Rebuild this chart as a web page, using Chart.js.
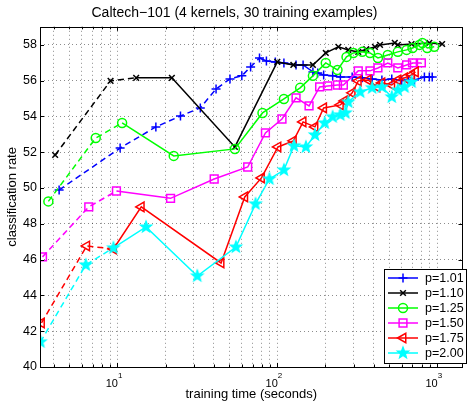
<!DOCTYPE html>
<html>
<head>
<meta charset="utf-8">
<script src="https://cdn.jsdelivr.net/npm/chart.js@4.4.0/dist/chart.umd.min.js"></script>
<style>
  html, body { margin: 0; padding: 0; background: #fff; }
  #wrap { width: 470px; height: 401px; }
</style>
</head>
<body>
<div id="wrap"><canvas id="chart" width="470" height="401"></canvas></div>
<script>
  // Valores (tiempo de entrenamiento en segundos, tasa de clasificacion %)
  const labels = ['p=1.01', 'p=1.10', 'p=1.25', 'p=1.50', 'p=1.75', 'p=2.00'];

  const p101x = [4.32, 10.4, 17.4, 24.8, 33.0, 41.4, 50.6, 60.0, 68.1, 77.4, 85.5, 97.2, 110, 131, 145, 167, 179, 195, 222, 248, 294, 340, 392, 451, 520, 600, 660, 721, 832, 893, 931];
  const p101y = [49.89, 52.23, 53.41, 54.02, 54.47, 55.53, 56.09, 56.26, 56.76, 57.26, 57.09, 57.04, 56.98, 56.87, 56.87, 56.48, 56.42, 56.31, 56.26, 56.2, 56.2, 56.15, 56.09, 56.03, 56.09, 56.0, 56.05, 56.03, 56.2, 56.2, 56.2];

  const p110x = [4.08, 9.06, 13.1, 21.9, 54.3, 100, 126, 167, 201, 241, 278, 321, 360, 408, 439, 543, 567, 691, 893, 1074];
  const p110y = [51.84, 55.98, 56.15, 56.15, 52.29, 57.04, 56.87, 56.87, 57.54, 57.88, 57.71, 57.6, 57.75, 57.88, 57.99, 58.1, 57.99, 58.04, 58.1, 58.04];

  const p125x = [3.70, 7.32, 10.7, 22.5, 54.3, 80.8, 110, 139, 167, 201, 238, 271, 299, 340, 380, 426, 491, 567, 644, 701, 774, 808, 867, 958];
  const p125y = [49.25, 52.79, 53.63, 51.79, 52.18, 54.19, 54.97, 55.59, 56.26, 56.98, 56.59, 57.32, 57.54, 57.6, 57.54, 57.26, 57.43, 57.6, 57.71, 57.82, 57.99, 58.1, 57.82, 57.88];

  const p150x = [3.40, 6.62, 9.86, 21.5, 40.3, 65.3, 84.3, 107, 131, 158, 184, 207, 238, 259, 321, 380, 426, 491, 567, 644, 701, 796];
  const p150y = [46.15, 48.94, 49.83, 49.42, 50.5, 51.17, 53.07, 53.85, 55.03, 54.58, 55.64, 55.70, 55.75, 55.75, 56.54, 56.54, 56.7, 56.98, 56.7, 56.87, 56.98, 56.98];

  const p175x = [3.35, 6.43, 9.44, 14.1, 44.5, 62.6, 79.6, 101, 126, 145, 172, 195, 248, 263, 294, 321, 370, 420, 451, 520, 567, 625, 691, 731];
  const p175y = [42.46, 46.76, 46.59, 48.94, 45.81, 49.5, 50.56, 52.29, 52.63, 53.69, 53.41, 54.47, 54.64, 54.86, 55.31, 55.98, 56.03, 55.64, 55.87, 55.75, 56.03, 56.15, 56.31, 56.48];

  const p200x = [3.30, 6.34, 9.44, 15.1, 31.6, 55.1, 73.1, 89.3, 110, 127, 151, 172, 198, 222, 248, 267, 278, 330, 392, 451, 520, 567, 625, 691];
  const p200y = [41.40, 45.70, 46.65, 47.82, 45.08, 46.7, 49.11, 50.5, 51.0, 52.35, 52.29, 52.96, 53.63, 53.97, 54.08, 54.19, 54.8, 55.36, 55.59, 55.64, 55.08, 55.47, 55.64, 55.92];

  // ultimo indice del tramo discontinuo de cada serie
  const dashEnds = [9, 2, 2, 2, 2, 2];

  const xMajorTicks = [10, 100, 1000];
  const xMajorLabels = ['1', '2', '3'];
  const xTickValues = [4, 5, 6, 7, 8, 9, 10, 20, 30, 40, 50, 60, 70, 80, 90, 100, 200, 300, 400, 500, 600, 700, 800, 900, 1000];
  const yTickValues = [40, 42, 44, 46, 48, 50, 52, 54, 56, 58];

  const FONT = '"Liberation Sans", Arial, Helvetica, sans-serif';

  // estrella de cinco puntas (marcador 'p' de MATLAB)
  function makeStar(color, r) {
      const c = document.createElement('canvas');
      const s = Math.ceil(r * 2 + 4);
      c.width = s; c.height = s;
      const g = c.getContext('2d');
      g.beginPath();
      for (let i = 0; i < 10; i++) {
          const rad = i % 2 === 0 ? r : r * 0.42;
          const a = -Math.PI / 2 + i * Math.PI / 5;
          g.lineTo(s / 2 + rad * Math.cos(a), s / 2 + rad * Math.sin(a));
      }
      g.closePath();
      g.fillStyle = color;
      g.fill();
      g.strokeStyle = color;
      g.lineWidth = 1.2;
      g.stroke();
      return c;
  }
  const starImg = makeStar('#00ffff', 6);

  const styles = [
      { color: '#0000ff', pointStyle: 'cross', radius: 4.5, rotation: 0 },
      { color: '#000000', pointStyle: 'crossRot', radius: 4, rotation: 0 },
      { color: '#00ff00', pointStyle: 'circle', radius: 4.5, rotation: 0 },
      { color: '#ff00ff', pointStyle: 'rect', radius: 5.5, rotation: 0 },
      { color: '#ff0000', pointStyle: 'triangle', radius: 5.5, rotation: -90 },
      { color: '#00ffff', pointStyle: starImg, radius: 6, rotation: 0 }
  ];

  const xs = [p101x, p110x, p125x, p150x, p175x, p200x];
  const ys = [p101y, p110y, p125y, p150y, p175y, p200y];

  const datasets = labels.map((label, i) => {
      const st = styles[i];
      const dashEnd = dashEnds[i];
      return {
          label: label,
          data: xs[i].map((x, k) => ({ x: x, y: ys[i][k] })),
          borderColor: st.color,
          backgroundColor: 'rgba(0,0,0,0)',
          borderWidth: 1.5,
          pointStyle: st.pointStyle,
          pointRadius: st.radius,
          pointRotation: st.rotation,
          pointBorderColor: st.color,
          pointBackgroundColor: 'rgba(0,0,0,0)',
          pointBorderWidth: 1.5,
          pointHoverRadius: st.radius,
          tension: 0,
          order: 6 - i,
          segment: {
              borderDash: c => c.p1DataIndex <= dashEnd ? [6, 4] : undefined
          }
      };
  });

  // marco, marcas interiores, etiquetas 10^n y leyenda
  const framePlugin = {
      id: 'frame',
      afterDraw(chart) {
          const ctx = chart.ctx;
          const a = chart.chartArea;
          const xs_ = chart.scales.x;
          const ys_ = chart.scales.y;
          ctx.save();
          ctx.strokeStyle = '#000';
          ctx.lineWidth = 1;
          ctx.setLineDash([]);
          ctx.strokeRect(Math.round(a.left) + 0.5, Math.round(a.top) + 0.5,
              Math.round(a.right - a.left) - 1, Math.round(a.bottom - a.top));

          ctx.beginPath();
          yTickValues.forEach(v => {
              const py = Math.round(ys_.getPixelForValue(v)) + 0.5;
              ctx.moveTo(a.left, py); ctx.lineTo(a.left + 4, py);
              ctx.moveTo(a.right, py); ctx.lineTo(a.right - 4, py);
          });
          xTickValues.forEach(v => {
              const px = Math.round(xs_.getPixelForValue(v)) + 0.5;
              const len = xMajorTicks.includes(v) ? 4 : 2.5;
              ctx.moveTo(px, a.bottom); ctx.lineTo(px, a.bottom - len);
              ctx.moveTo(px, a.top); ctx.lineTo(px, a.top + len);
          });
          ctx.stroke();

          ctx.fillStyle = '#000';
          ctx.textBaseline = 'alphabetic';
          xMajorTicks.forEach((v, i) => {
              const px = xs_.getPixelForValue(v);
              ctx.font = '11px ' + FONT;
              ctx.textAlign = 'right';
              ctx.fillText('10', px + 0.5, 387);
              ctx.font = '8px ' + FONT;
              ctx.textAlign = 'left';
              ctx.fillText(xMajorLabels[i], px + 0.5, 378);
          });

          // leyenda
          const bx = 384.5, by = 269.5, bw = 82, bh = 94;
          ctx.fillStyle = '#fff';
          ctx.fillRect(bx, by, bw, bh);
          ctx.strokeStyle = '#000';
          ctx.strokeRect(bx, by, bw, bh);
          labels.forEach((label, i) => {
              const st = styles[i];
              const ry = 278 + i * 15;
              ctx.strokeStyle = st.color;
              ctx.lineWidth = 1.5;
              ctx.beginPath();
              ctx.moveTo(388, ry); ctx.lineTo(418, ry);
              ctx.stroke();
              ctx.fillStyle = 'rgba(0,0,0,0)';
              Chart.helpers.drawPoint(ctx, {
                  pointStyle: st.pointStyle, radius: st.radius,
                  rotation: st.rotation, borderWidth: 1.5
              }, 403, ry);
              ctx.fillStyle = '#000';
              ctx.font = '12.5px ' + FONT;
              ctx.textAlign = 'left';
              ctx.textBaseline = 'middle';
              ctx.fillText(label, 425, ry + 0.5);
          });
          ctx.restore();
      }
  };

  const gridOpts = {
      color: 'rgba(0,0,0,0.45)',
      lineWidth: 1,
      drawTicks: false
  };

  new Chart(document.getElementById('chart').getContext('2d'), {
      type: 'line',
      data: { datasets: datasets },
      options: {
          responsive: false,
          animation: false,
          devicePixelRatio: 1,
          layout: { padding: { left: 0, right: 1, top: 0, bottom: 0 } },
          plugins: {
              legend: { display: false },
              tooltip: { enabled: false },
              title: {
                  display: true,
                  text: 'Caltech\u2212101 (4 kernels, 30 training examples)',
                  color: '#000',
                  font: { family: FONT, size: 14, weight: 'normal' },
                  padding: { top: 5, bottom: 5 }
              }
          },
          scales: {
              x: {
                  type: 'logarithmic',
                  min: 3.28,
                  max: 1440,
                  grid: gridOpts,
                  border: { display: false, dash: [1, 3] },
                  ticks: { display: false },
                  afterBuildTicks: scale => {
                      scale.ticks = xTickValues.map(v => ({ value: v }));
                  },
                  afterFit: scale => { scale.height = 34; },
                  title: {
                      display: true,
                      text: 'training time (seconds)',
                      color: '#000',
                      font: { family: FONT, size: 13, lineHeight: 1 },
                      padding: { top: 0, bottom: 0 }
                  }
              },
              y: {
                  type: 'linear',
                  min: 40,
                  max: 59,
                  grid: gridOpts,
                  border: { display: false, dash: [1, 3] },
                  ticks: {
                      stepSize: 2,
                      includeBounds: false,
                      color: '#000',
                      padding: 3,
                      font: { family: FONT, size: 12.5 }
                  },
                  afterFit: scale => { scale.width = 40; },
                  title: {
                      display: true,
                      text: 'classification rate',
                      color: '#000',
                      font: { family: FONT, size: 13 },
                      padding: { top: 5, bottom: 0 }
                  }
              }
          }
      },
      plugins: [framePlugin]
  });
</script>
</body>
</html>
